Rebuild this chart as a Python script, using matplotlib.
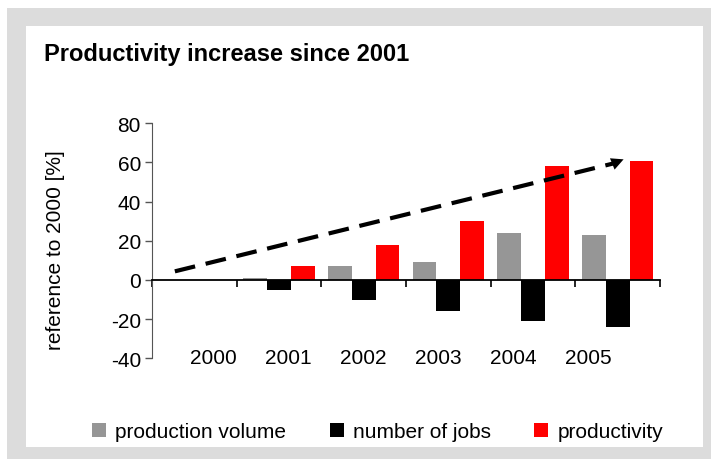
import matplotlib.pyplot as plt
from matplotlib.patches import Rectangle
import numpy as np

plt.rcParams['font.family'] = ['Liberation Sans', 'DejaVu Sans']
plt.rcParams['axes.unicode_minus'] = False

years = ['2000', '2001', '2002', '2003', '2004', '2005']
production_volume = [0, 1, 7, 9, 24, 23]
number_of_jobs = [0, -5, -10, -16, -21, -24]
productivity = [0, 7, 18, 30, 58, 61]

W, H = 711, 460
fs = 15
fig = plt.figure(figsize=(W / 100, H / 100), dpi=100)

# grey frame with white panel
fig.patches.append(Rectangle((7 / W, 0), 1 - 7 / W, 1 - 9 / H, transform=fig.transFigure,
                             facecolor='#dcdcdc', edgecolor='none', zorder=-2))
fig.patches.append(Rectangle((26 / W, 12 / H), (703 - 26) / W, (448 - 27) / H,
                             transform=fig.transFigure, facecolor='white',
                             edgecolor='none', zorder=-1))

ax = fig.add_axes([152 / W, (H - 359.3) / H, (660 - 152) / W, (359.3 - 124.3) / H])
ax.set_facecolor('none')

x = np.arange(len(years))
bw = 0.28
ax.bar(x - bw, production_volume, bw, color='#969696', label='production volume')
ax.bar(x, number_of_jobs, bw, color='black', label='number of jobs')
ax.bar(x + bw, productivity, bw, color='#ff0000', label='productivity')

ax.set_xlim(-0.5, 5.5)
ax.set_ylim(-40, 80)
ax.set_yticks(range(-40, 81, 20))
ax.tick_params(axis='y', labelsize=fs, length=5, width=1, color='#555555', pad=3)
ax.spines['left'].set_color('#555555')
ax.spines['top'].set_visible(False)
ax.spines['right'].set_visible(False)
ax.spines['bottom'].set_position(('data', 0))
ax.spines['bottom'].set_linewidth(1.3)
ax.set_xticks(np.arange(-0.5, 6, 1))
ax.set_xticklabels([])
ax.tick_params(axis='x', length=5, width=1.2, direction='out')

# year labels sit near the bottom of the plot
for i, yr in enumerate(years):
    ax.text(0.22 + 0.886 * i, -39.5, yr, ha='center', va='center', fontsize=fs)

ax.set_ylabel('reference to 2000 [%]', fontsize=fs)
ax.yaxis.set_label_coords(-0.171, 0.465)

# dashed trend arrow
ax.plot([-0.23, 4.95], [4.4, 59.5], color='black', lw=3, linestyle=(0, (5, 2.6)),
        solid_capstyle='butt', dash_capstyle='butt')
ax.annotate('', xy=(5.07, 61.6), xytext=(4.9, 58.6),
            arrowprops=dict(arrowstyle='-|>', color='black', lw=0,
                            mutation_scale=22, shrinkA=0, shrinkB=0))

fig.text(44 / W, 1 - 55 / H, 'Productivity increase since 2001', fontsize=17,
         fontweight='bold', va='center', ha='left')

fig.legend(loc='center', bbox_to_anchor=(0.531, 1 - 433 / H), ncol=3, frameon=False,
           fontsize=fs, handlelength=0.67, handleheight=0.67, handletextpad=0.43,
           columnspacing=2.1)

fig.savefig('out.png', dpi=100)
